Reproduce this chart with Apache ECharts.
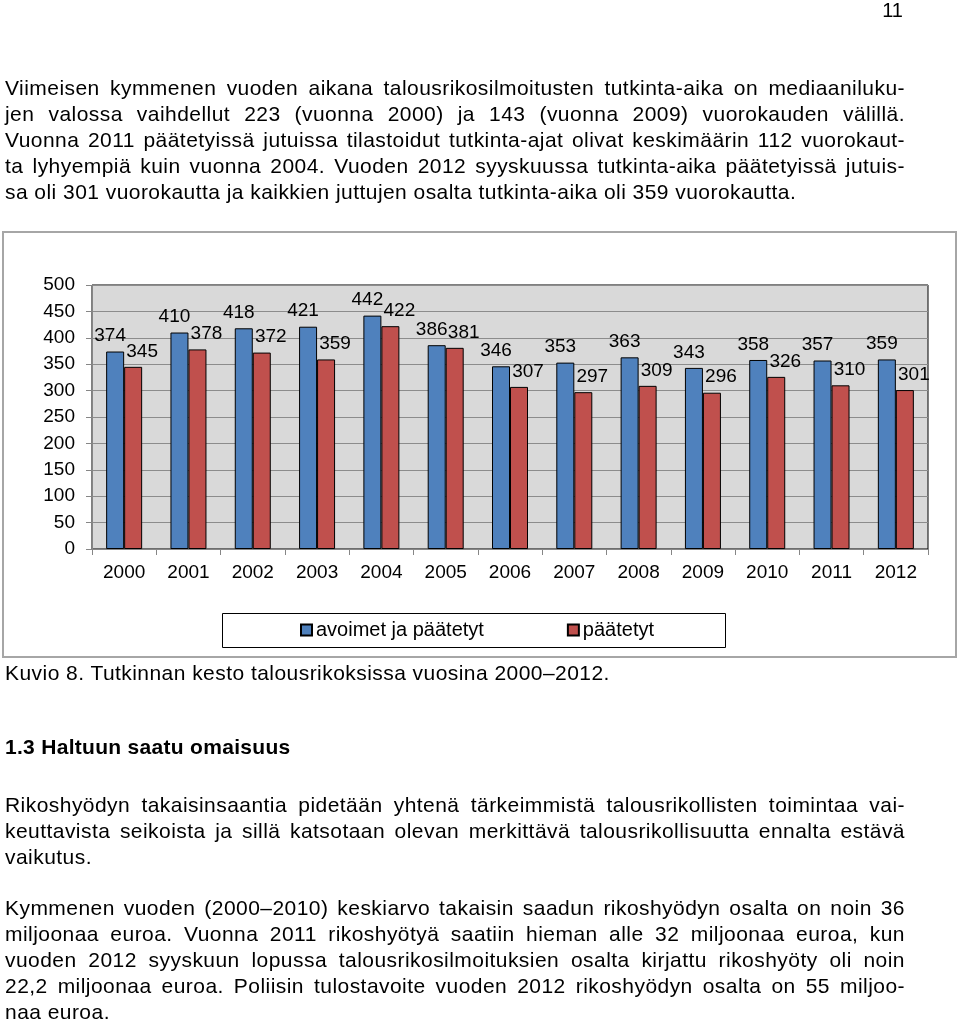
<!DOCTYPE html>
<html>
<head>
<meta charset="utf-8">
<script src="https://cdn.jsdelivr.net/npm/echarts@6/dist/echarts.min.js"></script>
<style>
  html, body { margin:0; padding:0; background:#fff; }
  body { width:960px; height:1021px; position:relative; overflow:hidden; font-family:"Liberation Sans", Arial, sans-serif; color:#000; }
  #chart { position:absolute; left:0; top:0; width:960px; height:1021px; }
  .ln { position:absolute; left:5px; width:900px; height:26px; line-height:26px; font-size:21px; letter-spacing:0.45px; white-space:nowrap; z-index:2; }
  .j { text-align:justify; text-align-last:justify; }
  .b { font-weight:bold; letter-spacing:0.3px; }
</style>
</head>
<body>
<div id="chart"></div>
<div class="ln" style="left:700px;width:203px;top:-3px;text-align:right;letter-spacing:0;font-size:20px;">11</div>

<div class="ln j" style="top:75px;">Viimeisen kymmenen vuoden aikana talousrikosilmoitusten tutkinta-aika on mediaaniluku-</div>
<div class="ln j" style="top:101px;">jen valossa vaihdellut 223 (vuonna 2000) ja 143 (vuonna 2009) vuorokauden välillä.</div>
<div class="ln j" style="top:127px;">Vuonna 2011 päätetyissä jutuissa tilastoidut tutkinta-ajat olivat keskimäärin 112 vuorokaut-</div>
<div class="ln j" style="top:153px;">ta lyhyempiä kuin vuonna 2004. Vuoden 2012 syyskuussa tutkinta-aika päätetyissä jutuis-</div>
<div class="ln" style="top:179px;">sa oli 301 vuorokautta ja kaikkien juttujen osalta tutkinta-aika oli 359 vuorokautta.</div>

<div class="ln" style="top:660px;">Kuvio 8. Tutkinnan kesto talousrikoksissa vuosina 2000–2012.</div>

<div class="ln b" style="top:734px;">1.3 Haltuun saatu omaisuus</div>

<div class="ln j" style="top:792px;">Rikoshyödyn takaisinsaantia pidetään yhtenä tärkeimmistä talousrikollisten toimintaa vai-</div>
<div class="ln j" style="top:818px;">keuttavista seikoista ja sillä katsotaan olevan merkittävä talousrikollisuutta ennalta estävä</div>
<div class="ln" style="top:844px;">vaikutus.</div>

<div class="ln j" style="top:895px;">Kymmenen vuoden (2000–2010) keskiarvo takaisin saadun rikoshyödyn osalta on noin 36</div>
<div class="ln j" style="top:921px;">miljoonaa euroa. Vuonna 2011 rikoshyötyä saatiin hieman alle 32 miljoonaa euroa, kun</div>
<div class="ln j" style="top:947px;">vuoden 2012 syyskuun lopussa talousrikosilmoituksien osalta kirjattu rikoshyöty oli noin</div>
<div class="ln j" style="top:973px;">22,2 miljoonaa euroa. Poliisin tulostavoite vuoden 2012 rikoshyödyn osalta on 55 miljoo-</div>
<div class="ln" style="top:999px;">naa euroa.</div>

<script>
const years = ['2000','2001','2002','2003','2004','2005','2006','2007','2008','2009','2010','2011','2012'];
const openAndClosed = [374,410,418,421,442,386,346,353,363,343,358,357,359];
const closedOnly = [345,378,372,359,422,381,307,297,309,296,326,310,301];
const seriesNames = ['avoimet ja päätetyt','päätetyt'];

const FONT = '"Liberation Sans", Arial, sans-serif';
const chart = echarts.init(document.getElementById('chart'), null, {renderer:'canvas'});
chart.setOption({
  animation:false,
  textStyle:{fontFamily:FONT},
  graphic:[
    {type:'rect', z:-10, shape:{x:3, y:232, width:953, height:425}, style:{fill:'#fff', stroke:'#a6a6a6', lineWidth:2}},
    {type:'rect', z:-5, shape:{x:222.5, y:613.5, width:503, height:34}, style:{fill:'#fff', stroke:'#000', lineWidth:1}}
  ],
  grid:{left:92, top:285, width:836, height:264, show:true, backgroundColor:'#d9d9d9', borderColor:'#000', borderWidth:1},
  legend:{
    left:300, top:620, padding:0, itemGap:83, itemWidth:11, itemHeight:11,
    icon:'rect',
    textStyle:{fontSize:20, color:'#000', fontFamily:FONT, padding:[0,0,0,-1]},
    data:seriesNames
  },
  xAxis:{
    type:'category', data:years,
    axisLine:{show:true, lineStyle:{color:'#868686', width:1}},
    axisTick:{show:true, length:6, lineStyle:{color:'#868686'}},
    axisLabel:{fontSize:19, color:'#000', margin:14, fontFamily:FONT}
  },
  yAxis:{
    type:'value', min:0, max:500, interval:50,
    axisLine:{show:true, lineStyle:{color:'#868686', width:1}},
    axisTick:{show:true, length:6, lineStyle:{color:'#868686'}},
    axisLabel:{fontSize:19, color:'#000', margin:17, fontFamily:FONT},
    splitLine:{show:true, lineStyle:{color:'#8c8c8c', width:1}}
  },
  series:[
    {
      name:seriesNames[0], type:'bar', data:openAndClosed, barWidth:18, barGap:'0%',
      itemStyle:{color:'#4f81bd', borderColor:'#000', borderWidth:1},
      label:{show:true, position:'top', distance:6, offset:[-5,0], fontSize:19, color:'#000', fontFamily:FONT}
    },
    {
      name:seriesNames[1], type:'bar', data:closedOnly, barWidth:18, barGap:'0%',
      itemStyle:{color:'#c0504d', borderColor:'#000', borderWidth:1},
      label:{show:true, position:'top', distance:6, offset:[9,0], fontSize:19, color:'#000', fontFamily:FONT}
    }
  ]
});
</script>
</body>
</html>
